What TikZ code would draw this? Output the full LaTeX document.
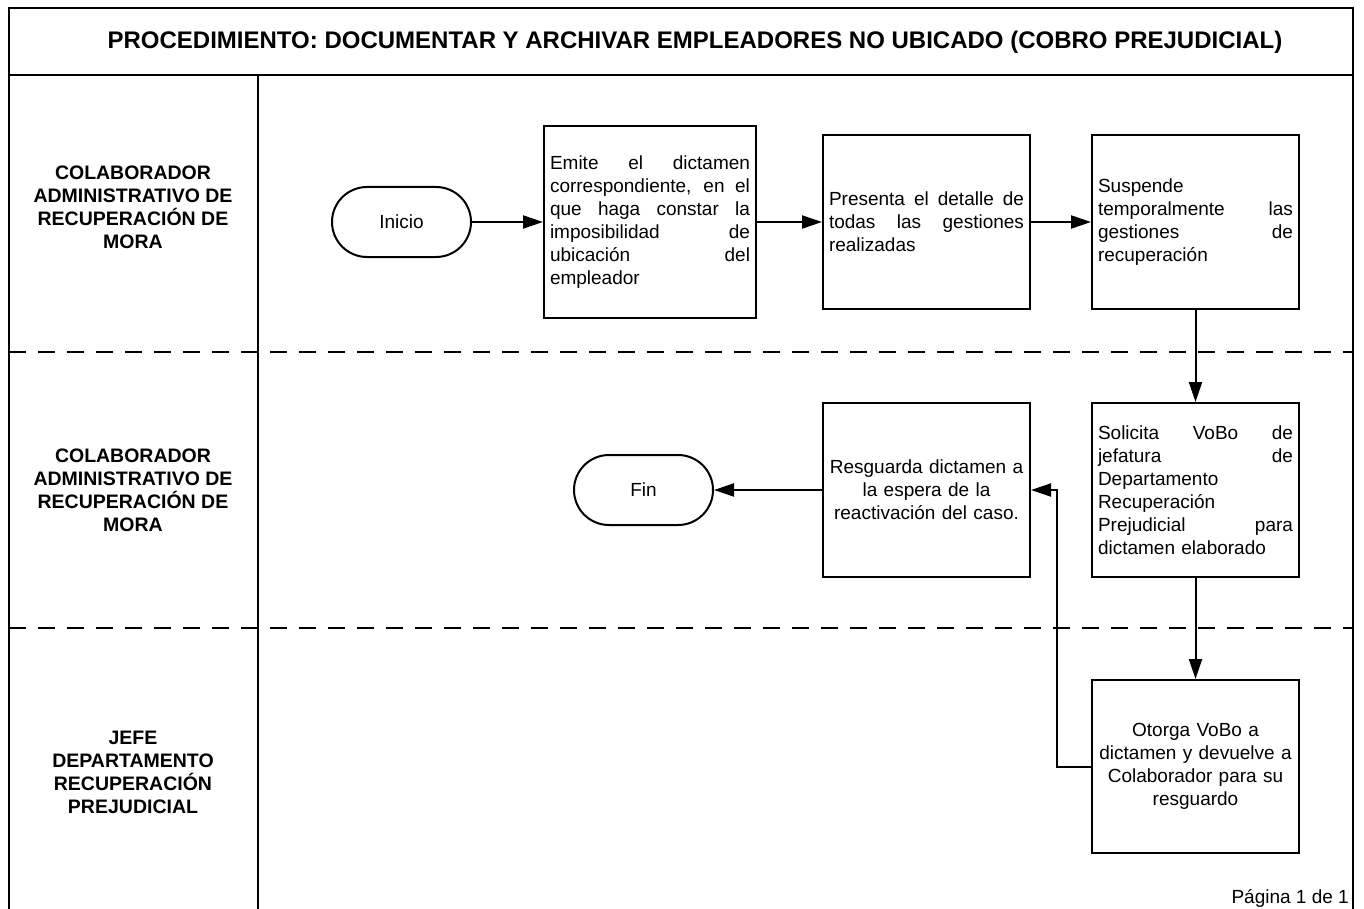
\documentclass[tikz,border=0pt]{standalone}
\usepackage{fontspec}
\setmainfont{Liberation Sans}
\usetikzlibrary{arrows.meta}
% one justified line, stretched to the full text width of its box
\newcommand\jl[1]{\makebox[\hsize][s]{\spaceskip=0.278em plus 1fil\relax #1}}
\begin{document}
\begin{tikzpicture}[x=1pt,y=-1pt,
  frameline/.style={line width=2.6pt},
  lanedash/.style={line width=2.6pt, dash pattern=on 17pt off 12pt},
  proc/.style={draw, line width=2pt, inner sep=0pt,
    font=\fontsize{19}{23}\selectfont},
  term/.style={draw, line width=2pt, rounded corners=35pt,
    minimum width=139pt, minimum height=70pt, inner sep=0pt,
    font=\fontsize{19}{23}\selectfont},
  lane/.style={align=center, font=\bfseries\fontsize{19.5}{23}\selectfont},
  arr/.style={line width=2pt, -{Triangle[length=20pt,width=13pt]}},
]
\useasboundingbox (0,0) rectangle (1364,909);

% outer frame, title bar and lane grid
\draw[frameline] (9,909) -- (9,8) -- (1353,8) -- (1353,909);
\draw[frameline] (9,75) -- (1353,75);
\draw[frameline] (258,75) -- (258,909);
\draw[lanedash] (9,352) -- (1353,352);
\draw[lanedash] (9,628) -- (1353,628);

\node[font=\bfseries\fontsize{24}{28}\selectfont] (title) at (695,42)
  {PROCEDIMIENTO: DOCUMENTAR Y ARCHIVAR EMPLEADORES NO UBICADO (COBRO PREJUDICIAL)};

% lane labels
\node[lane] (lane1) at (133,207) {COLABORADOR\\ADMINISTRATIVO DE\\RECUPERACIÓN DE\\MORA};
\node[lane] (lane2) at (133,490) {COLABORADOR\\ADMINISTRATIVO DE\\RECUPERACIÓN DE\\MORA};
\node[lane] (lane3) at (133,772) {JEFE\\DEPARTAMENTO\\RECUPERACIÓN\\PREJUDICIAL};

% process steps
\node[term] (inicio) at (401.5,222) {Inicio};

\node[proc, minimum width=212pt, minimum height=191pt, text width=200pt, align=left]
  (emite) at (650,222)
  {\jl{Emite el dictamen}\\
   \jl{correspondiente, en el}\\
   \jl{que haga constar la}\\
   \jl{imposibilidad de}\\
   \jl{ubicación del}\\
   empleador};

\node[proc, minimum width=207pt, minimum height=174pt, text width=195pt, align=left]
  (presenta) at (926.5,222)
  {\jl{Presenta el detalle de}\\
   \jl{todas las gestiones}\\
   realizadas};

\node[proc, minimum width=207pt, minimum height=174pt, text width=195pt, align=left]
  (suspende) at (1195.5,222)
  {Suspende\\
   \jl{temporalmente las}\\
   \jl{gestiones de}\\
   recuperación};

\node[proc, minimum width=207pt, minimum height=174pt, text width=195pt, align=left]
  (solicita) at (1195.5,490)
  {\jl{Solicita VoBo de}\\
   \jl{jefatura de}\\
   Departamento\\
   Recuperación\\
   \jl{Prejudicial para}\\
   dictamen elaborado};

\node[proc, minimum width=207pt, minimum height=174pt, text width=195pt, align=center]
  (resguarda) at (926.5,490)
  {Resguarda dictamen a\\la espera de la\\reactivación del caso.};

\node[term] (fin) at (643.5,490) {Fin};

\node[proc, minimum width=207pt, minimum height=173pt, text width=195pt, align=center]
  (otorga) at (1195.5,766.5)
  {Otorga VoBo a\\dictamen y devuelve a\\Colaborador para su\\resguardo};

\node[anchor=base east, inner sep=0pt, font=\fontsize{19}{23}\selectfont]
  (pagina) at (1349,903) {Página 1 de 1};

% connectors
\coordinate (ret) at (1057,766.5);
\draw[arr] (inicio) -- (emite);
\draw[arr] (emite) -- (presenta);
\draw[arr] (presenta) -- (suspende);
\draw[arr] (suspende) -- (solicita);
\draw[arr] (solicita) -- (otorga);
\draw[arr] (otorga.west) -- (ret) |- (resguarda.east);
\draw[arr] (resguarda) -- (fin);
\end{tikzpicture}
\end{document}
